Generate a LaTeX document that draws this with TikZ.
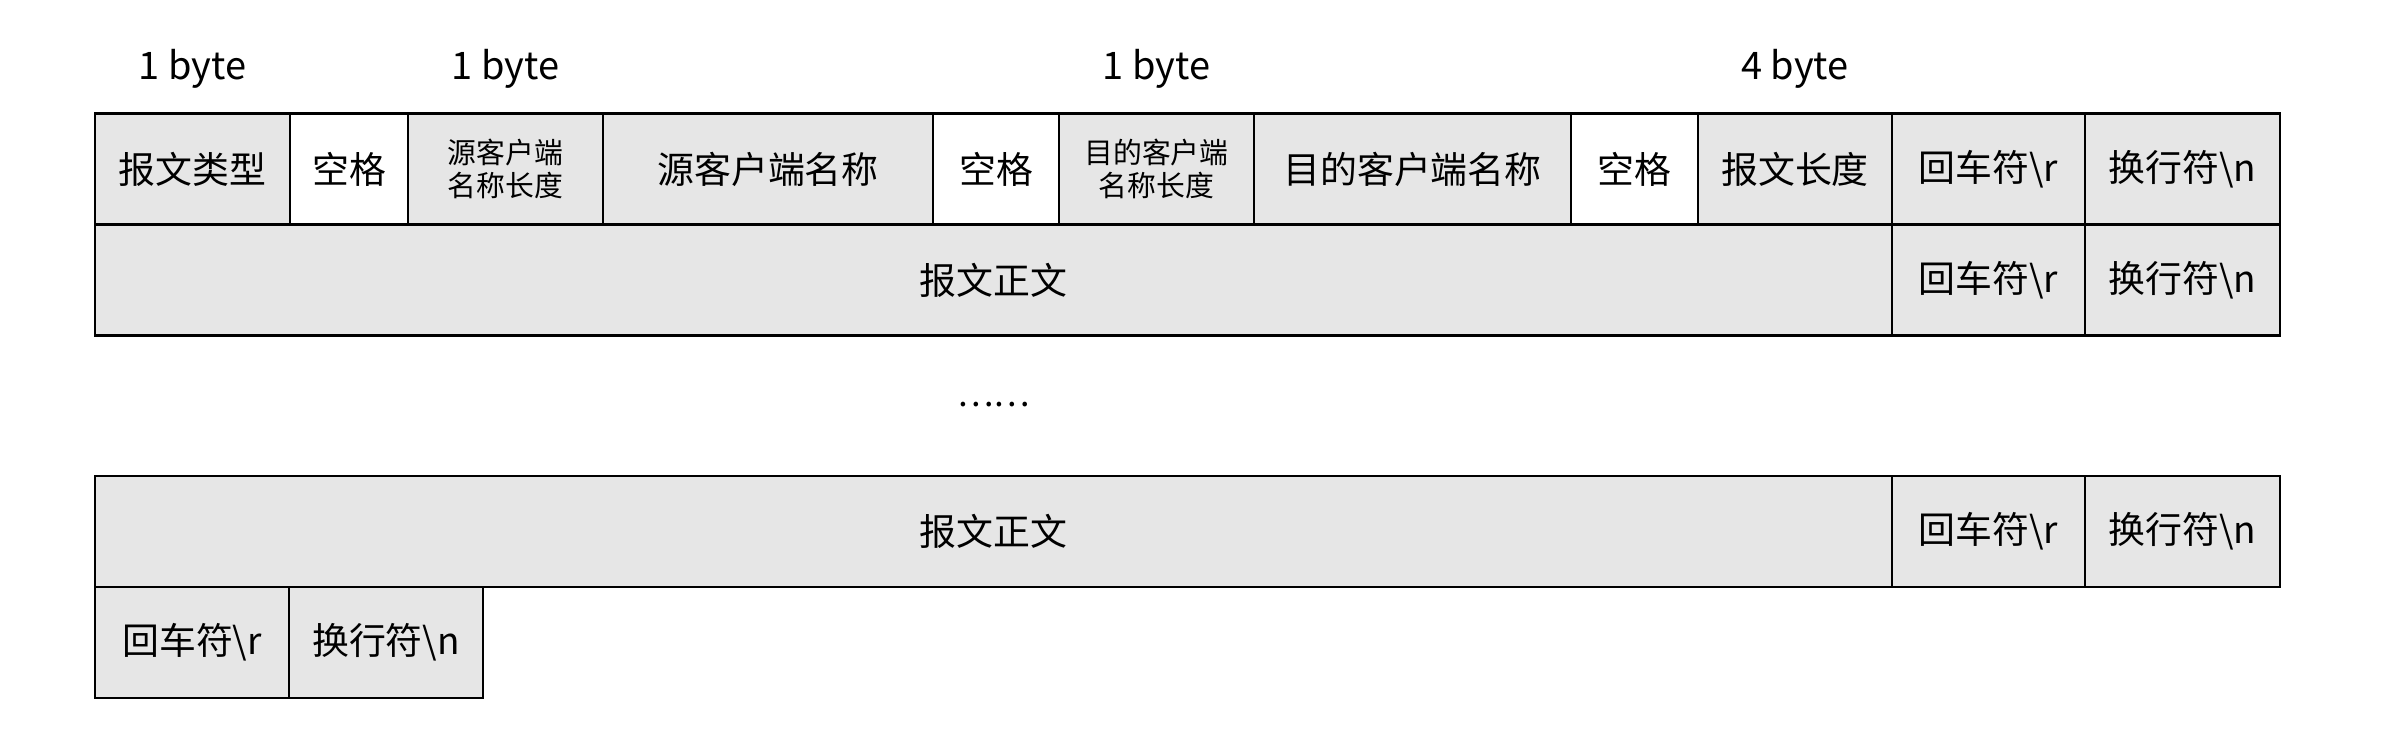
\documentclass[tikz,border=0pt]{standalone}
\usepackage{fontspec}
\setmainfont{Noto Sans CJK SC}
\usetikzlibrary{positioning}
\definecolor{cellgray}{HTML}{E6E6E6}

\begin{document}
\begin{tikzpicture}[x=1cm,y=1cm,
    cell/.style={draw, line width=0.8pt, fill=cellgray, minimum height=1.11cm,
      inner sep=0pt, outer sep=0pt, font=\fontsize{10.5}{12.6}\selectfont},
    blank/.style={cell, fill=white},
    twoline/.style={align=center, font=\fontsize{8.2}{9.4}\selectfont},
    bytes/.style={anchor=base, inner sep=0pt, font=\fontsize{10.8}{13}\selectfont}]
  \useasboundingbox (0,0) rectangle (24.06,7.51);

  % header line
  \node[cell, minimum width=1.95cm, anchor=north west] (type) at (0.95,6.375) {报文类型};
  \node[blank, minimum width=1.18cm, right=0pt of type] (sp1) {空格};
  \node[cell, twoline, minimum width=1.95cm, right=0pt of sp1] (srclen) {源客户端\\名称长度};
  \node[cell, minimum width=3.30cm, right=0pt of srclen] (src) {源客户端名称};
  \node[blank, minimum width=1.26cm, right=0pt of src] (sp2) {空格};
  \node[cell, twoline, minimum width=1.95cm, right=0pt of sp2] (dstlen) {目的客户端\\名称长度};
  \node[cell, minimum width=3.17cm, right=0pt of dstlen] (dst) {目的客户端名称};
  \node[blank, minimum width=1.27cm, right=0pt of dst] (sp3) {空格};
  \node[cell, minimum width=1.94cm, right=0pt of sp3] (len) {报文长度};
  \node[cell, minimum width=1.93cm, right=0pt of len] (cr0) {回车符\textbackslash r};
  \node[cell, minimum width=1.95cm, right=0pt of cr0] (lf0) {换行符\textbackslash n};

  % field sizes
  \node[bytes] (typesize) at ([yshift=0.335cm]type.north) {1 byte};
  \node[bytes] (srcsize) at ([yshift=0.335cm]srclen.north) {1 byte};
  \node[bytes] (dstsize) at ([yshift=0.335cm]dstlen.north) {1 byte};
  \node[bytes] (lensize) at ([yshift=0.335cm]len.north) {4 byte};

  % body lines
  \node[cell, minimum width=17.97cm, anchor=north west] (body1) at (type.south west) {报文正文};
  \node[cell, minimum width=1.93cm, right=0pt of body1] (cr1) {回车符\textbackslash r};
  \node[cell, minimum width=1.95cm, right=0pt of cr1] (lf1) {换行符\textbackslash n};

  \node[font=\fontsize{9.8}{11.8}\selectfont] (dots) at (9.935,3.46) {……};

  \node[cell, minimum width=17.97cm, anchor=north west] (body2) at (0.95,2.75) {报文正文};
  \node[cell, minimum width=1.93cm, right=0pt of body2] (cr2) {回车符\textbackslash r};
  \node[cell, minimum width=1.95cm, right=0pt of cr2] (lf2) {换行符\textbackslash n};

  % end of message
  \node[cell, minimum width=1.94cm, anchor=north west] (cr3) at (body2.south west) {回车符\textbackslash r};
  \node[cell, minimum width=1.94cm, right=0pt of cr3] (lf3) {换行符\textbackslash n};
\end{tikzpicture}
\end{document}
